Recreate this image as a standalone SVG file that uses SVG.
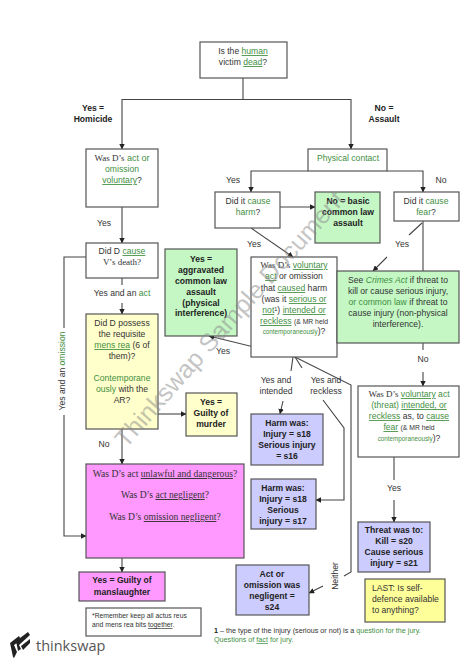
<svg xmlns="http://www.w3.org/2000/svg" width="474" height="669" viewBox="0 0 474 669">
<defs>
<marker id="ah" viewBox="0 0 8 8" refX="7.5" refY="4" markerWidth="5.5" markerHeight="5.5" orient="auto" markerUnits="userSpaceOnUse"><path d="M0 0L8 4L0 8Z" fill="#222"/></marker>
</defs>
<style>
text{font-family:"Liberation Sans",Arial,sans-serif;font-size:8.6px;fill:#333;text-anchor:middle}
.b{font-weight:bold;fill:#222}
.s{font-family:"Liberation Serif","Times New Roman",serif;font-size:9px}
.p{font-size:9.6px}
.g{fill:#3f8f3f}
.u{text-decoration:underline}
.box{stroke:#555;stroke-width:1.2}
.w{fill:#fff}.gr{fill:#c4f7c4}.pu{fill:#ccccff}.pk{fill:#ff99ff}.ye{fill:#ffffcc}.la{fill:#ffff99}
.c{fill:none;stroke:#444;stroke-width:1.1}
.a{marker-end:url(#ah)}
.sm{font-size:6.8px}
.fn{font-size:7.2px}
.xs{font-size:6.3px}
.l{text-anchor:start}
</style>
<rect width="474" height="669" fill="#fff"/>
<g id="connectors">
<path class="c" d="M243 78V99.5"/>
<path class="c a" d="M243 99.5H122V149"/>
<path class="c a" d="M243 99.5H351V149"/>
<path class="c a" d="M122 207V243"/>
<path class="c a" d="M308 171H251V192"/>
<path class="c a" d="M387 171H423V192"/>
<path class="c a" d="M280 207H315"/>
<path class="c a" d="M251 228L293 257"/>
<path class="c" d="M423 221V271"/>
<path class="c" d="M422 223L409 235"/>
<path class="c a" d="M387 257L373 271"/>
<path class="c" d="M423 343V350"/>
<path class="c a" d="M423 372V386"/>
<path class="c" d="M394 457V480"/>
<path class="c a" d="M394 500V522"/>
<path class="c" d="M122 278V285"/>
<path class="c a" d="M122 303V314"/>
<path class="c a" d="M158 414H186"/>
<path class="c a" d="M122 429V464"/>
<path class="c a" d="M122 558V572"/>
<path class="c" d="M86 257H64V328"/>
<path class="c a" d="M64 415V536H86"/>
<path class="c a" d="M344 576L351 572V385L295 357L209 336"/>
<path class="c" d="M293 357L291 371"/>
<path class="c a" d="M283 401L280 414"/>
<path class="c" d="M295 357L302 368"/>
<path class="c a" d="M323 400L344 428V500H316"/>
<path class="c a" d="M323 586L309 593"/>
</g>
<g id="n-top"><rect class="box w" x="200" y="42" width="87" height="36"/><text x="243" y="54">Is the <tspan class="g u">human</tspan></text><text x="243" y="65">victim <tspan class="g u">dead</tspan>?</text></g>
<g id="l-homicide"><text class="b" x="93" y="111">Yes =</text><text class="b" x="93" y="122">Homicide</text></g>
<g id="l-assault"><text class="b" x="384" y="111">No =</text><text class="b" x="384" y="122">Assault</text></g>
<g id="n-voluntary"><rect class="box w" x="86" y="149" width="72" height="58"/><text class="s" x="122" y="161">Was D’s <tspan class="g" style="font-family:'Liberation Sans'">act or</tspan></text><text class="g" x="122" y="172">omission</text><text x="122" y="183"><tspan class="g u">voluntary</tspan>?</text></g>
<g id="n-contact"><rect class="box w" x="308" y="149" width="79" height="22"/><text class="g" x="348" y="161">Physical contact</text></g>
<g id="n-harm"><rect class="box w" x="215" y="192" width="65" height="36"/><text x="248" y="204">Did it <tspan class="g">cause</tspan></text><text x="248" y="215"><tspan class="g">harm</tspan>?</text></g>
<g id="n-basic"><rect class="box gr" x="315" y="192" width="65" height="51"/><text class="b" x="348" y="204">No = basic</text><text class="b" x="348" y="215">common law</text><text class="b" x="348" y="226">assault</text></g>
<g id="n-fear"><rect class="box w" x="394" y="192" width="65" height="29"/><text x="426" y="204">Did it <tspan class="g">cause</tspan></text><text x="426" y="215"><tspan class="g">fear</tspan>?</text></g>
<g id="n-cause"><rect class="box w" x="86" y="243" width="72" height="35"/><text x="122" y="254">Did D <tspan class="g u">cause</tspan></text><text class="s" x="122" y="265">V’s death?</text></g>
<g id="n-aggr"><rect class="box gr" x="165" y="249" width="72" height="87"/><text class="b" x="201" y="262">Yes =</text><text class="b" x="201" y="273">aggravated</text><text class="b" x="201" y="284">common law</text><text class="b" x="201" y="295">assault</text><text class="b" x="201" y="306">(physical</text><text class="b" x="201" y="316">interference)</text></g>
<g id="n-volharm"><rect class="box w" x="251" y="257" width="86" height="100"/>
<text x="294" y="268"><tspan class="s">Was D’s</tspan> <tspan class="g u">voluntary</tspan></text><text x="294" y="279"><tspan class="g u">act</tspan> or omission</text><text x="294" y="291">that <tspan class="g u">caused</tspan> harm</text><text x="294" y="302">(was it <tspan class="g u">serious or</tspan></text><text x="294" y="313"><tspan class="g u">not</tspan><tspan font-size="5.5" dy="-2">1</tspan><tspan dy="2">)</tspan> <tspan class="g u">intended or</tspan></text><text x="294" y="324"><tspan class="g u">reckless</tspan> <tspan class="sm">(&amp; MR held</tspan></text><text x="294" y="334"><tspan class="g xs">contemporaneously</tspan>)?</text></g>
<g id="n-crimes"><rect class="box gr" x="337" y="271" width="122" height="72"/>
<text x="398" y="283">See <tspan class="g" font-style="italic">Crimes Act</tspan> if threat to</text><text x="398" y="294">kill or cause serious injury,</text><text x="398" y="305"><tspan class="g">or common law</tspan> if threat to</text><text x="398" y="316">cause injury (non-physical</text><text x="398" y="327">interference).</text></g>
<g id="n-mensrea"><rect class="box ye" x="86" y="314" width="72" height="115"/><text x="122" y="326">Did D possess</text><text x="122" y="337">the requisite</text><text x="122" y="348"><tspan class="g u">mens rea</tspan> (6 of</text><text x="122" y="359">them)?</text><text class="g" x="122" y="381">Contemporane</text><text x="122" y="392"><tspan class="g">ously</tspan> with the</text><text x="122" y="403">AR?</text></g>
<g id="n-murder"><rect class="box ye" x="186" y="393" width="51" height="43"/><text class="b" x="211" y="405">Yes =</text><text class="b" x="211" y="416">Guilty of</text><text class="b" x="211" y="427">murder</text></g>
<g id="n-threatvol"><rect class="box w" x="358" y="386" width="101" height="71"/>
<text x="409" y="397"><tspan class="s">Was D’s</tspan> <tspan class="g u">voluntary</tspan> <tspan class="g">act</tspan></text><text x="409" y="408"><tspan class="g">(threat)</tspan> <tspan class="g u">intended, or</tspan></text><text x="409" y="419"><tspan class="g u">reckless</tspan> as, to <tspan class="g u">cause</tspan></text><text x="409" y="430"><tspan class="g u">fear</tspan> <tspan class="sm">(&amp; MR held</tspan></text><text x="409" y="441"><tspan class="g xs">contemporaneously</tspan>)?</text></g>
<g id="n-s18-16"><rect class="box pu" x="251" y="414" width="72" height="51"/><text class="b" x="287" y="426">Harm was:</text><text class="b" x="287" y="437">Injury = s18</text><text class="b" x="287" y="448">Serious injury</text><text class="b" x="287" y="459">= s16</text></g>
<g id="n-unlawful"><rect class="box pk" x="86" y="464" width="158" height="94"/><text class="s p" x="165" y="477">Was D’s <tspan>act</tspan> <tspan class="u">unlawful and dangerous</tspan>?</text><text class="s p" x="165" y="498">Was D’s <tspan class="u">act negligent</tspan>?</text><text class="s p" x="165" y="520">Was D’s <tspan class="u">omission negligent</tspan>?</text></g>
<g id="n-s18-17"><rect class="box pu" x="251" y="479" width="65" height="50"/><text class="b" x="283" y="491">Harm was:</text><text class="b" x="283" y="502">Injury = s18</text><text class="b" x="283" y="513">Serious</text><text class="b" x="283" y="524">injury = s17</text></g>
<g id="n-threat"><rect class="box pu" x="358" y="522" width="72" height="50"/><text class="b" x="394" y="533">Threat was to:</text><text class="b" x="394" y="544">Kill = s20</text><text class="b" x="394" y="555">Cause serious</text><text class="b" x="394" y="566">injury = s21</text></g>
<g id="n-s24"><rect class="box pu" x="236" y="565" width="73" height="50"/><text class="b" x="272" y="577">Act or</text><text class="b" x="272" y="588">omission was</text><text class="b" x="272" y="599">negligent =</text><text class="b" x="272" y="610">s24</text></g>
<g id="n-manslaughter"><rect class="box pk" x="79" y="572" width="86" height="29"/><text class="b" x="122" y="583">Yes = Guilty of</text><text class="b" x="122" y="595">manslaughter</text></g>
<g id="n-last"><rect class="box la" x="365" y="579" width="80" height="43"/><text class="l" x="372" y="591">LAST: Is self-</text><text class="l" x="372" y="602">defence available</text><text class="l" x="372" y="613">to anything?</text></g>
<g id="n-note"><rect class="box w" x="86" y="608" width="115" height="28"/><text class="l sm" x="92" y="618">*Remember keep all actus reus</text><text class="l sm" x="92" y="627">and mens rea bits <tspan class="u">together</tspan>.</text></g>
<g id="labels">
<text x="104" y="226">Yes</text><text x="233" y="183">Yes</text><text x="441" y="183">No</text><text x="254" y="247">Yes</text><text x="402" y="247">Yes</text>
<text x="122" y="296">Yes and an <tspan class="g">act</tspan></text><text x="223" y="354">Yes</text><text x="104" y="447">No</text><text x="423" y="362">No</text>
<text x="276" y="383">Yes and</text><text x="276" y="394">intended</text><text x="326" y="383">Yes and</text><text x="326" y="394">reckless</text><text x="394" y="491">Yes</text>
<text transform="translate(338 576) rotate(-90)" x="0" y="0">Neither</text>
<text transform="translate(65 371) rotate(-90)" x="0" y="0">Yes and an <tspan class="g">omission</tspan></text>
<text class="l fn" x="214" y="633"><tspan class="b">1</tspan> – the type of the injury (serious or not) is a <tspan class="g">question for the jury.</tspan></text>
<text class="l fn" x="214" y="642"><tspan class="g">Questions of <tspan class="u">fact</tspan> for jury.</tspan></text>
</g>
<g id="watermark"><text transform="translate(126 449) rotate(-48.5)" style="font-size:25px;fill:#8a8a8a;fill-opacity:.5;text-anchor:start">Thinkswap Sample Document</text></g>
<g id="logo"><path d="M10 643L19 636L21 640L14 645L17 652L14 658L13 657Z M16 641L28 632L30 635L19 645L21 649L18 651Z M21 646L30 639L30 643L23 650Z" fill="#222"/><text class="l" x="36" y="651" style="font-family:'Open Sans',sans-serif;font-size:14.5px;fill:#555">thinkswap</text></g>
</svg>
